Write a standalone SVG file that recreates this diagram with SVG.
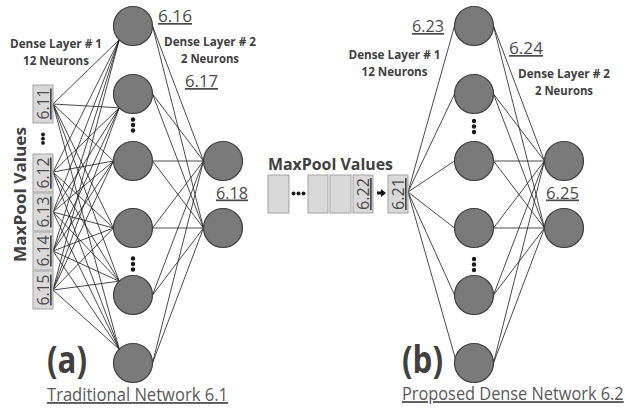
<svg xmlns="http://www.w3.org/2000/svg" width="625" height="409" viewBox="0 0 625 409">
  <defs>
    <style>
      .neuron { fill: #7a7a7a; stroke: #3f3f3f; stroke-width: 1.2; }
      .box { fill: #d9d9d9; stroke: #a3a3a3; stroke-width: 1; }
      .conn line { stroke: #1c1c1c; stroke-width: 0.8; }
      .dot { fill: #1a1a1a; }
      .lbl { font-family: "Open Sans", "Liberation Sans", sans-serif; font-weight: bold; font-size: 12.5px; fill: #404040; text-anchor: middle; }
      .num { font-family: "Open Sans", "Liberation Sans", sans-serif; font-size: 17px; fill: #4a4a4a; text-decoration: underline; }
      .boxnum { font-family: "Open Sans", "Liberation Sans", sans-serif; font-size: 17px; fill: #4a4a4a; text-decoration: underline; text-anchor: middle; }
      .title { font-family: "Open Sans", "Liberation Sans", sans-serif; font-weight: bold; font-size: 16.4px; fill: #404040; }
      .tag { font-family: "Open Sans", "Liberation Sans", sans-serif; font-weight: bold; font-size: 38px; fill: #404040; }
      .caption { font-family: "Open Sans", "Liberation Sans", sans-serif; font-size: 19px; fill: #595959; text-decoration: underline; }
    </style>
  </defs>
  <rect width="625" height="409" fill="#ffffff"/>

  <!-- connectors -->
  <g id="connectors" class="conn">
    <!-- (a) inputs to hidden layer -->
    <g id="a-in-hidden">
      <line x1="53" y1="104" x2="119.2" y2="39.8"/><line x1="53" y1="104" x2="119.2" y2="107.8"/><line x1="53" y1="104" x2="113.5" y2="161"/><line x1="53" y1="104" x2="113.5" y2="228"/><line x1="53" y1="104" x2="119.2" y2="281.2"/><line x1="53" y1="104" x2="119.2" y2="349.2"/>
      <line x1="53" y1="172" x2="119.2" y2="39.8"/><line x1="53" y1="172" x2="119.2" y2="107.8"/><line x1="53" y1="172" x2="113.5" y2="161"/><line x1="53" y1="172" x2="113.5" y2="228"/><line x1="53" y1="172" x2="119.2" y2="281.2"/><line x1="53" y1="172" x2="119.2" y2="349.2"/>
      <line x1="53" y1="212" x2="119.2" y2="39.8"/><line x1="53" y1="212" x2="119.2" y2="107.8"/><line x1="53" y1="212" x2="113.5" y2="161"/><line x1="53" y1="212" x2="113.5" y2="228"/><line x1="53" y1="212" x2="119.2" y2="281.2"/><line x1="53" y1="212" x2="119.2" y2="349.2"/>
      <line x1="53" y1="251" x2="119.2" y2="39.8"/><line x1="53" y1="251" x2="119.2" y2="107.8"/><line x1="53" y1="251" x2="113.5" y2="161"/><line x1="53" y1="251" x2="113.5" y2="228"/><line x1="53" y1="251" x2="119.2" y2="281.2"/><line x1="53" y1="251" x2="119.2" y2="349.2"/>
      <line x1="53" y1="290" x2="119.2" y2="39.8"/><line x1="53" y1="290" x2="119.2" y2="107.8"/><line x1="53" y1="290" x2="113.5" y2="161"/><line x1="53" y1="290" x2="113.5" y2="228"/><line x1="53" y1="290" x2="119.2" y2="281.2"/><line x1="53" y1="290" x2="119.2" y2="349.2"/>
    </g>
    <!-- (a) hidden to output layer -->
    <g id="a-hidden-out">
      <line x1="152.5" y1="26" x2="203.5" y2="161"/><line x1="152.5" y1="26" x2="203.5" y2="228"/>
      <line x1="152.5" y1="94" x2="203.5" y2="161"/><line x1="152.5" y1="94" x2="203.5" y2="228"/>
      <line x1="152.5" y1="161" x2="203.5" y2="161"/><line x1="152.5" y1="161" x2="203.5" y2="228"/>
      <line x1="152.5" y1="228" x2="203.5" y2="161"/><line x1="152.5" y1="228" x2="203.5" y2="228"/>
      <line x1="152.5" y1="295" x2="203.5" y2="161"/><line x1="152.5" y1="295" x2="203.5" y2="228"/>
      <line x1="152.5" y1="363" x2="203.5" y2="161"/><line x1="152.5" y1="363" x2="203.5" y2="228"/>
    </g>
    <!-- (b) single input to hidden layer -->
    <g id="b-in-hidden">
      <line x1="408" y1="192" x2="454.5" y2="26"/><line x1="408" y1="192" x2="454.5" y2="94"/><line x1="408" y1="192" x2="454.5" y2="161"/>
      <line x1="408" y1="192" x2="454.5" y2="228"/><line x1="408" y1="192" x2="454.5" y2="295"/><line x1="408" y1="192" x2="455.5" y2="359"/>
    </g>
    <!-- (b) hidden to output layer -->
    <g id="b-hidden-out">
      <line x1="493.5" y1="26" x2="544.5" y2="161"/><line x1="493.5" y1="26" x2="544.5" y2="228"/>
      <line x1="493.5" y1="94" x2="544.5" y2="161"/><line x1="493.5" y1="94" x2="544.5" y2="228"/>
      <line x1="493.5" y1="161" x2="544.5" y2="161"/><line x1="493.5" y1="161" x2="544.5" y2="228"/>
      <line x1="493.5" y1="228" x2="544.5" y2="161"/><line x1="493.5" y1="228" x2="544.5" y2="228"/>
      <line x1="493.5" y1="295" x2="544.5" y2="161"/><line x1="493.5" y1="295" x2="544.5" y2="228"/>
      <line x1="493.5" y1="363" x2="544.5" y2="161"/><line x1="493.5" y1="363" x2="544.5" y2="228"/>
    </g>
    <!-- shift arrow between stored values and the newest value -->
    <polygon id="b-shift-arrow" points="377,191.4 381,191.4 381,189 386,193 381,197 381,194.6 377,194.6" fill="#111111"/>
  </g>

  <!-- (a) traditional network -->
  <g id="a-input-6-11"><rect class="box" x="33" y="85" width="20" height="38"/><text class="boxnum" transform="translate(49,104) rotate(-90)" textLength="31" lengthAdjust="spacingAndGlyphs">6.11</text></g>
  <g id="a-input-6-12"><rect class="box" x="33" y="154" width="20" height="38"/><text class="boxnum" transform="translate(49,173) rotate(-90)" textLength="31" lengthAdjust="spacingAndGlyphs">6.12</text></g>
  <g id="a-input-6-13"><rect class="box" x="33" y="193" width="20" height="38"/><text class="boxnum" transform="translate(49,212) rotate(-90)" textLength="31" lengthAdjust="spacingAndGlyphs">6.13</text></g>
  <g id="a-input-6-14"><rect class="box" x="33" y="232" width="20" height="38"/><text class="boxnum" transform="translate(49,251) rotate(-90)" textLength="31" lengthAdjust="spacingAndGlyphs">6.14</text></g>
  <g id="a-input-6-15"><rect class="box" x="33" y="271" width="20" height="38"/><text class="boxnum" transform="translate(49,290) rotate(-90)" textLength="31" lengthAdjust="spacingAndGlyphs">6.15</text></g>
  <g id="a-input-dots"><circle class="dot" cx="43" cy="134.5" r="1.9"/><circle class="dot" cx="43" cy="138.7" r="1.9"/><circle class="dot" cx="43" cy="142.9" r="1.9"/></g>

  <g id="a-hidden-1"><circle class="neuron" cx="133" cy="26" r="19.5"/></g>
  <g id="a-hidden-2"><circle class="neuron" cx="133" cy="94" r="19.5"/></g>
  <g id="a-hidden-3"><circle class="neuron" cx="133" cy="161" r="19.5"/></g>
  <g id="a-hidden-4"><circle class="neuron" cx="133" cy="228" r="19.5"/></g>
  <g id="a-hidden-5"><circle class="neuron" cx="133" cy="295" r="19.5"/></g>
  <g id="a-hidden-6"><circle class="neuron" cx="133" cy="363" r="19.5"/></g>
  <g id="a-hidden-dots-upper"><circle class="dot" cx="133" cy="119.5" r="2.2"/><circle class="dot" cx="133" cy="125" r="2.2"/><circle class="dot" cx="133" cy="130.5" r="2.2"/></g>
  <g id="a-hidden-dots-lower"><circle class="dot" cx="133" cy="258.5" r="2.2"/><circle class="dot" cx="133" cy="264" r="2.2"/><circle class="dot" cx="133" cy="269.5" r="2.2"/></g>
  <g id="a-out-1"><circle class="neuron" cx="223" cy="161" r="19.5"/></g>
  <g id="a-out-2"><circle class="neuron" cx="223" cy="228" r="19.5"/></g>

  <g id="a-labels">
    <text class="title" transform="translate(25.5,194.5) rotate(-90)" text-anchor="middle" font-size="17.5" textLength="135" lengthAdjust="spacingAndGlyphs">MaxPool Values</text>
    <text class="lbl" x="56" y="48" textLength="92" lengthAdjust="spacingAndGlyphs">Dense Layer # 1</text>
    <text class="lbl" x="56" y="65" textLength="66" lengthAdjust="spacingAndGlyphs">12 Neurons</text>
    <text class="lbl" x="210" y="46" textLength="92" lengthAdjust="spacingAndGlyphs">Dense Layer # 2</text>
    <text class="lbl" x="210" y="63" textLength="58" lengthAdjust="spacingAndGlyphs">2 Neurons</text>
    <text class="num" x="158" y="22" textLength="34" lengthAdjust="spacingAndGlyphs">6.16</text>
    <text class="num" x="185" y="87" textLength="33" lengthAdjust="spacingAndGlyphs">6.17</text>
    <text class="num" x="216" y="198.5" textLength="32" lengthAdjust="spacingAndGlyphs">6.18</text>
    <text class="tag" x="47" y="373" textLength="40" lengthAdjust="spacingAndGlyphs">(a)</text>
    <text class="caption" x="47" y="401" textLength="181" lengthAdjust="spacingAndGlyphs">Traditional Network 6.1</text>
  </g>

  <!-- (b) proposed dense network -->
  <g id="b-store-1"><rect class="box" x="268" y="175" width="21" height="38"/></g>
  <g id="b-store-dots"><circle class="dot" cx="293.5" cy="193.5" r="2"/><circle class="dot" cx="298.5" cy="193.5" r="2"/><circle class="dot" cx="303.5" cy="193.5" r="2"/></g>
  <g id="b-store-2"><rect class="box" x="308" y="175" width="20" height="38"/></g>
  <g id="b-store-3"><rect class="box" x="330" y="175" width="21" height="38"/></g>
  <g id="b-store-6-22"><rect class="box" x="353" y="175" width="20" height="38"/><text class="boxnum" transform="translate(369,194) rotate(-90)" textLength="32" lengthAdjust="spacingAndGlyphs">6.22</text></g>
  <g id="b-input-6-21"><rect class="box" x="388" y="175" width="20" height="38"/><text class="boxnum" transform="translate(404,194) rotate(-90)" textLength="32" lengthAdjust="spacingAndGlyphs">6.21</text></g>

  <g id="b-hidden-1"><circle class="neuron" cx="474" cy="26" r="19.5"/></g>
  <g id="b-hidden-2"><circle class="neuron" cx="474" cy="94" r="19.5"/></g>
  <g id="b-hidden-3"><circle class="neuron" cx="474" cy="161" r="19.5"/></g>
  <g id="b-hidden-4"><circle class="neuron" cx="474" cy="228" r="19.5"/></g>
  <g id="b-hidden-5"><circle class="neuron" cx="474" cy="295" r="19.5"/></g>
  <g id="b-hidden-6"><circle class="neuron" cx="474" cy="363" r="19.5"/></g>
  <g id="b-hidden-dots-upper"><circle class="dot" cx="474" cy="121" r="2.2"/><circle class="dot" cx="474" cy="126.5" r="2.2"/><circle class="dot" cx="474" cy="132" r="2.2"/></g>
  <g id="b-hidden-dots-lower"><circle class="dot" cx="474" cy="259" r="2.2"/><circle class="dot" cx="474" cy="264.5" r="2.2"/><circle class="dot" cx="474" cy="270" r="2.2"/></g>
  <g id="b-out-1"><circle class="neuron" cx="564" cy="161" r="19.5"/></g>
  <g id="b-out-2"><circle class="neuron" cx="564" cy="228" r="19.5"/></g>

  <g id="b-labels">
    <text class="title" x="268" y="170" textLength="125" lengthAdjust="spacingAndGlyphs">MaxPool Values</text>
    <text class="lbl" x="394.5" y="59" textLength="92" lengthAdjust="spacingAndGlyphs">Dense Layer # 1</text>
    <text class="lbl" x="394.5" y="76" textLength="66" lengthAdjust="spacingAndGlyphs">12 Neurons</text>
    <text class="lbl" x="564" y="78" textLength="92" lengthAdjust="spacingAndGlyphs">Dense Layer # 2</text>
    <text class="lbl" x="564" y="95" textLength="58" lengthAdjust="spacingAndGlyphs">2 Neurons</text>
    <text class="num" x="412" y="32" textLength="32" lengthAdjust="spacingAndGlyphs">6.23</text>
    <text class="num" x="509" y="54" textLength="34" lengthAdjust="spacingAndGlyphs">6.24</text>
    <text class="num" x="546" y="198.5" textLength="33" lengthAdjust="spacingAndGlyphs">6.25</text>
    <text class="tag" x="402" y="373" textLength="41" lengthAdjust="spacingAndGlyphs">(b)</text>
    <!-- narrowed horizontally so the caption ends inside the right edge -->
    <text class="caption" transform="translate(402,400) scale(0.86,1)" x="0" y="0">Proposed Dense Network 6.2</text>
  </g>
</svg>
